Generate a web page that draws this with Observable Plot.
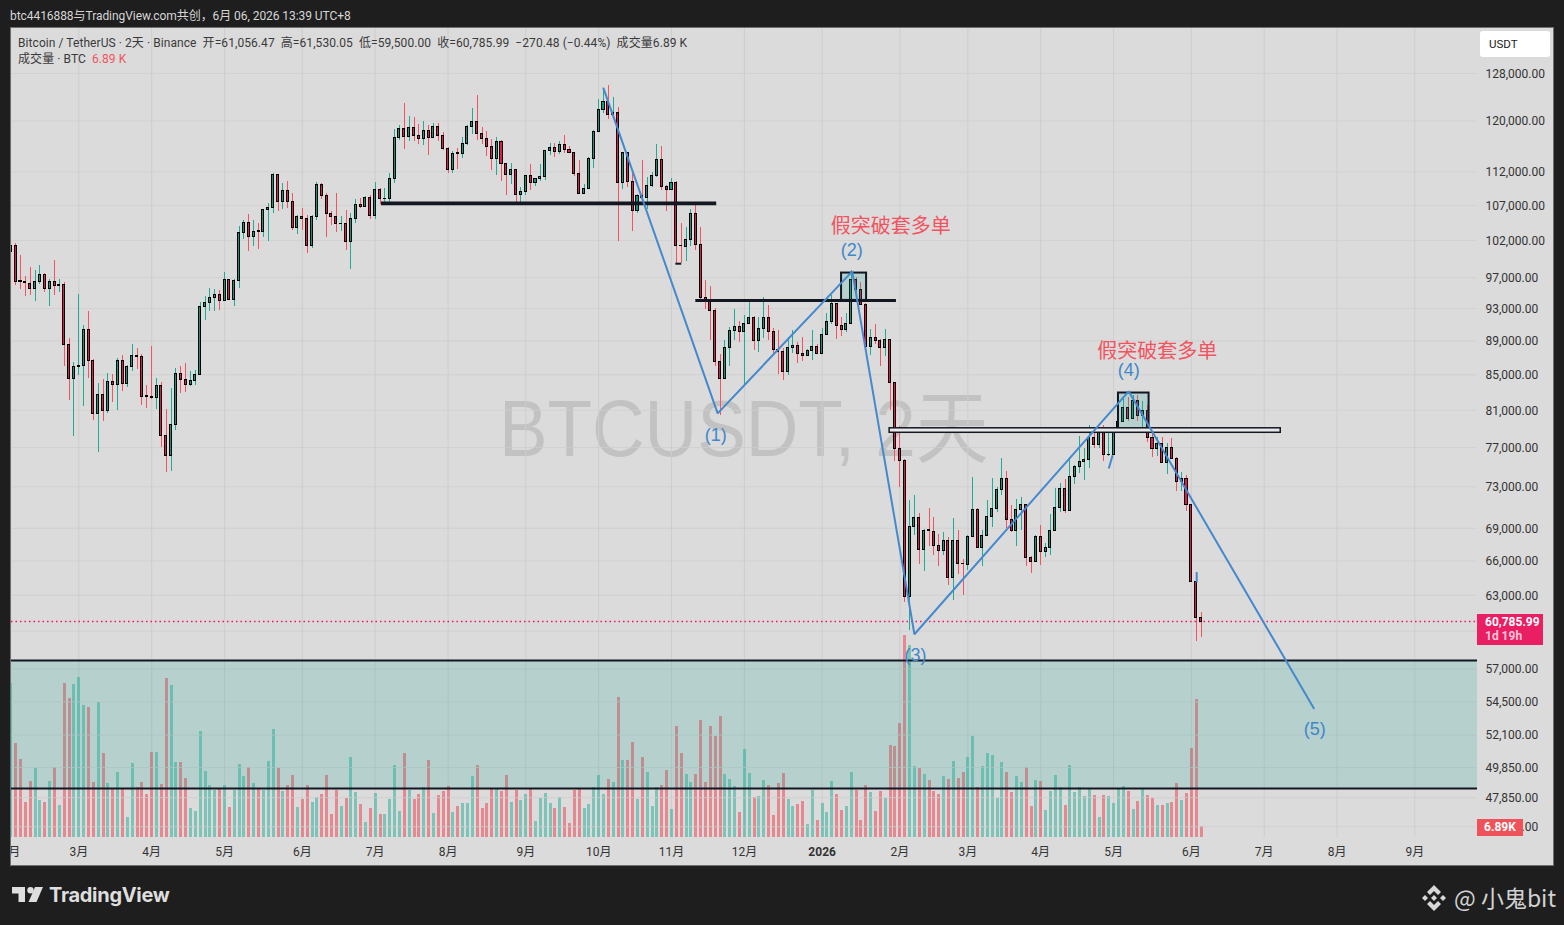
<!DOCTYPE html>
<html><head><meta charset="utf-8">
<script src="https://cdn.jsdelivr.net/npm/d3@7"></script>
<script src="https://cdn.jsdelivr.net/npm/@observablehq/plot@0.6"></script>
<style>
html,body{margin:0;padding:0;background:#1e1e1e;width:1564px;height:925px;overflow:hidden;font-family:"Liberation Sans",Roboto,"Noto Sans CJK SC",sans-serif}
#top{position:absolute;left:10px;top:6px;color:#d6d6d6;font:12px Roboto,"Noto Sans CJK SC",sans-serif;letter-spacing:-.06px;white-space:nowrap}
#panel{position:absolute;left:10px;top:27px;width:1544px;height:839px;box-sizing:border-box;border:1px solid #6f6f6f;background:#dbdbdb;overflow:hidden}
#panel svg{position:absolute;left:0;top:0;background:transparent}
.abs{position:absolute;white-space:nowrap}
#wm{left:488px;top:351px;font:80px "Liberation Sans","Noto Sans CJK SC",sans-serif;color:#c2c2c2;transform:scaleX(.91);transform-origin:left center;line-height:100px;margin-top:0}
.leg{left:7px;color:#3a3a3a;font:12px Roboto,"Noto Sans CJK SC",sans-serif;letter-spacing:.07px}
#usdt{left:1469px;top:3px;width:70px;height:26px;background:#fff;border-radius:3px;color:#222;font:11.5px/26px Roboto,sans-serif;text-indent:9px}
#tagP{left:1466px;top:586px;width:66px;height:31px;background:#e91e63;color:#fff;font:bold 12px/14px Roboto,sans-serif;text-align:left;padding:1px 0 0 8px;box-sizing:border-box}
#tagP span{color:#fbc6d8}
#tagV{left:1466px;top:791px;width:46px;height:17px;background:#f0525a;color:#fff;font:bold 12px/17px Roboto,sans-serif;text-align:center}
#tv{left:49px;top:883px;color:#dedede;font:bold 20px "Inter","Liberation Sans",sans-serif;letter-spacing:-.3px}
#bit{left:1454px;top:880px;color:#d2d2d2;font:23px "Noto Sans CJK SC","Noto Sans",sans-serif}
</style></head><body>
<div id="top">btc4416888与TradingView.com共创，6月 06, 2026 13:39 UTC+8</div>
<div id="panel">
  <div class="abs" id="wm">BTCUSDT, 2天</div>
  <div id="layers"></div>
  <div class="abs leg" style="top:5px">Bitcoin / TetherUS · 2天 · Binance &nbsp;开=61,056.47 &nbsp;高=61,530.05 &nbsp;低=59,500.00 &nbsp;收=60,785.99 &nbsp;−270.48 (−0.44%) &nbsp;成交量6.89 K</div>
  <div class="abs leg" style="top:21px">成交量 · BTC &nbsp;<span style="color:#f2535f">6.89 K</span></div>
  <div class="abs" id="usdt">USDT</div>
  <div class="abs" id="tagP">60,785.99<br><span>1d 19h</span></div>
  <div class="abs" id="tagV">6.89K</div>
</div>
<svg class="abs" style="left:12px;top:887px" width="32" height="16" viewBox="0 0 32 16"><path fill="#dedede" d="M0 0H13V15H6.5V6.5H0Z"/><circle fill="#dedede" cx="18.5" cy="3.2" r="3.2"/><path fill="#dedede" d="M23 0H31L24.5 15H16.5Z"/></svg>
<div class="abs" id="tv">TradingView</div>
<svg class="abs" style="left:1420px;top:884px" width="28" height="28" viewBox="0 0 28 28"><g fill="#d8d8d8"><path d="M14 1L21 8L18 11L14 7L10 11L7 8Z"/><path d="M14 27L21 20L18 17L14 21L10 17L7 20Z"/><path d="M5 11L8 14L5 17L2 14Z"/><path d="M23 11L26 14L23 17L20 14Z"/><path d="M14 11L17 14L14 17L11 14Z"/></g></svg>
<div class="abs" id="bit">@ 小鬼bit</div>
<script>
const opens=[100420,101200,96500,96420,96200,95500,96410,97390,95500,96460,
95940,96070,88560,84560,85950,86070,90370,86650,80630,82740,
80960,84210,83870,86650,83990,85950,87240,87120,82600,82520,
82410,83760,78260,76160,79400,85130,84440,83870,84330,85020,
93240,93750,94390,94770,94000,96720,94130,96590,103100,104510,
102540,103300,103240,106270,106660,111440,107530,109150,107530,103800,
105370,105080,101240,105370,110040,108410,105800,105370,104300,104370,
101850,105080,107100,106750,108120,105510,109300,107930,107980,110940,
117300,118740,117400,118900,117620,117080,118410,117300,119060,117620,
115560,112250,114830,114780,116350,119060,119870,117940,117080,115880,
114000,116660,113230,111550,112310,108560,109000,111400,110340,110880,
111250,115240,115720,115030,116190,115410,114930,111700,108710,109450,
114000,118250,121840,123170,121020,121350,110340,114930,110490,106230,
108410,108120,109900,111400,113840,109750,109300,110340,101300,101100,
102130,105800,101430,94340,94130,92730,86530,84560,88190,90250,
90750,90130,91110,91860,89030,90500,91860,90130,87950,87710,
85360,88190,88430,87480,87240,87840,88310,87480,89760,91360,
93620,90870,90390,91110,96720,95420,93500,88310,89400,89030,
88190,89150,84100,76890,75650,62810,69160,70010,67030,68850,
68690,67400,66940,67860,64530,67860,65770,65680,68230,70770,
67220,68320,70110,70870,72720,73820,69820,68780,70770,71260,
66310,65950,68230,66850,67220,68780,70970,72830,70680,74020,
75030,75540,75750,78050,77310,78580,76220,76270,78580,79760,
81290,80080,82070,80410,80960,78050,76890,77410,75440,76990,
75850,73520,73820,71260,64100,61056];
const closes=[101200,96410,96420,96330,95500,96460,97390,95500,96460,95940,
96070,88560,84560,85950,86070,90370,86650,80630,82740,80960,
84210,83830,86650,83990,85950,87240,87080,82520,82520,82410,
83760,78260,76160,79440,85130,84390,83870,84330,85020,93240,
93750,94390,94770,94000,96720,94130,96590,103100,104510,102540,
103240,103240,106270,106660,111440,107530,109150,107530,103800,105370,
105080,101240,105370,110040,108410,105800,105370,104370,104370,101850,
105080,107100,106750,108120,105410,109300,107980,107980,110940,117300,
118740,117400,118900,117560,117080,118410,117300,119060,117620,115500,
112250,114780,114780,116350,119060,119870,117940,117080,115880,114000,
116660,113230,111550,112310,108560,109000,111400,110340,110940,111250,
115240,115720,115030,116190,115410,114930,111700,108710,109450,114000,
118250,121840,123170,121020,121350,110340,114930,110490,106230,108410,
108120,109900,111400,113840,109750,109300,110340,101300,101240,102130,
105800,101430,94340,94040,92730,86530,84560,88190,90250,90750,
90130,91110,91860,89030,90500,91860,90130,87870,87710,85360,
88190,88430,87480,87240,87840,88310,87480,89760,91360,93620,
90870,90390,91110,96720,95420,93500,88310,89400,89030,88190,
89150,84100,76890,75650,62810,69160,70010,67030,68780,68780,
67400,66940,67860,64530,67860,65770,65710,68230,70770,67220,
68320,70110,70870,72720,73820,69820,68780,70770,71260,66310,
65950,68230,66850,67220,68780,70970,72830,70680,74020,75030,
75540,75750,78050,77310,78580,76270,76270,78580,79760,81290,
80080,82070,80410,80960,78050,76890,77410,75440,76990,75850,
73520,73820,71260,64100,61056,60786];
const highs=[102300,101570,99970,97160,98360,97950,98620,97520,96720,99290,
96720,96330,89320,86450,94810,90910,92650,86760,83990,84470,
85130,85050,86920,87280,86100,88590,88110,87400,83790,88350,
84560,84100,81110,83450,85750,85980,86330,85400,85510,93790,
94560,95590,95460,95290,97690,96760,96720,103990,104830,105700,
104830,104370,106460,107240,111746,111590,110240,110540,108750,105550,
106560,105550,105550,110390,110240,108710,106170,108750,105410,106270,
105840,107870,108020,108310,108460,110390,109490,109490,111746,118630,
119280,122890,120740,120580,119440,119880,119230,119600,119550,118140,
115720,115130,115600,117300,119230,122060,124240,118950,118300,116970,
117300,116860,113270,113270,112350,109640,111440,113120,110990,113120,
115340,116390,116350,116710,117670,115880,115030,113730,110090,114160,
118410,123550,125370,125930,123900,122180,114980,114980,111746,108610,
113730,111090,111850,116190,115930,109940,110940,110540,104410,103880,
106420,107240,103880,96630,95850,92980,87400,89070,90700,92860,
91400,92110,94040,92020,91930,94380,93410,90540,90290,88080,
89470,90290,88830,89400,87950,90290,88590,90500,92360,94650,
93700,91930,92440,97950,97060,96410,93620,90370,90990,89150,
90370,89190,84130,79260,75780,71670,72170,70390,68900,70900,
70040,68440,68630,68130,69910,68810,66160,68320,73910,70870,
68810,71670,73820,72920,75850,74550,71190,71750,71940,71290,
66370,68350,69280,67580,70300,72830,73320,73720,75960,75170,
78190,76900,79360,79010,78900,79360,78640,78900,82330,82470,
82470,82660,82660,82020,81550,78580,78050,78080,77410,77940,
75960,74420,74150,71290,65000,61530];
const lows=[91190,95980,95460,94560,94730,93910,96110,95070,93280,94690,
95070,85980,82100,78190,84940,81440,84590,79900,76500,79790,
80665,81880,80990,83110,83570,85400,85640,81550,81220,82220,
81100,77030,74450,74550,78820,82890,83000,83680,83790,84940,
91520,92650,92650,92780,93980,94040,93280,95590,102170,100510,
101200,100750,102440,101890,105880,106120,106420,106560,103420,102860,
103420,100240,100930,104830,107870,102440,104130,103140,103280,100650,
98090,104410,106610,106710,104980,104980,107140,107285,107285,110280,
116860,115440,116660,116660,116240,116030,114560,117190,116660,115240,
111790,111746,112350,114050,116130,117830,116860,116240,114310,112200,
111440,110540,108460,110090,107140,107000,108460,109150,109790,110490,
110640,114560,114200,114620,114780,114820,111290,108560,108560,109340,
112500,118090,121280,120250,120620,101890,109340,109600,103280,105880,
107140,106420,109600,111090,109150,106120,109150,98850,98890,99160,
101200,100650,94000,92860,89070,85980,80450,84470,85980,89070,
88790,83680,91030,87870,87630,89280,89070,87510,85050,84360,
84940,87480,86330,86560,87160,86680,87400,87400,89680,91030,
89230,89560,90080,91030,94130,93410,88230,87200,88590,85980,
87160,80990,75570,72890,62400,60020,68290,65710,65090,67310,
66520,65530,66520,63840,62550,64820,63000,65180,68130,67130,
65530,68260,69120,70520,72170,68980,68600,67340,68810,65530,
64910,65890,65620,66310,66520,68750,70520,70390,70640,73250,
74350,73650,74830,76890,76890,75570,76090,76190,78500,79680,
79720,80010,79760,78580,77520,75960,76090,75370,74220,75750,
72530,72490,70610,64060,59130,59500];
const volumes=[99.1,60.4,50.1,22.4,35.9,44.3,23.7,22.4,35.9,44.9,
20.4,99.1,89.4,98.5,103,84.9,83.6,35.3,86.9,54,
34.6,31.4,41.7,30.7,12.7,47.5,32,35.3,27.5,54.6,
54.6,34,102.3,97.8,48.2,48.2,37.8,18.5,16.6,68.2,
42.4,33.3,30.1,31.4,33.3,19.1,30.1,46.9,39.1,44.9,
34.6,30.7,30.1,48.8,69.4,44.3,29.5,33.3,39.8,19.1,
24.3,33.3,22.4,25.6,27.5,39.8,14.6,30.1,19.8,24.9,
51.4,28.8,21.1,9.5,18.5,28.2,14.6,14.6,24.3,46.2,
16.6,54,30.1,24.3,27.5,32,49.5,15.3,26.9,29.5,
32.7,15.9,19.8,21.7,21.7,39.1,46.2,18.5,21.7,30.7,
30.7,29.5,39.8,22.4,30.1,23.7,27.5,30.7,10.1,24.9,
28.2,21.7,18.5,25.6,19.1,8.8,30.1,30.7,18.5,21.1,
32,39.8,27.5,37.2,35.3,90.1,49.5,49.5,61.1,24.3,
51.4,41.7,19.8,32,33.3,43,17.8,71.4,54,40.4,
35.3,40.4,75.3,35.3,71.4,64.9,77.8,40.4,37.2,32.7,
15.9,56.5,41.1,25.6,26.2,36.6,33.3,14,34.6,41.1,
24.3,19.8,21.1,23,8.2,30.1,10.8,21.7,15.9,35.9,
27.5,17.2,19.8,41.7,30.1,10.8,33.3,28.8,16.6,29.5,
24.9,59.1,58.5,73.3,130.1,123.6,45.6,44.3,40.4,36.6,
29.5,27.5,39.1,37.2,48.8,37.8,41.7,51.4,64.9,32,
45.6,54,52.7,24.9,48.2,41.7,28.8,39.1,35.3,44.9,
19.8,36.6,35.9,17.2,29.5,39.8,32,20.4,46.2,28.8,
32,26.2,31.4,26.9,12.7,26.9,26.2,21.7,30.7,32.7,
29.5,17.8,23,31.4,26.9,24.9,20.4,20.4,21.7,22.4,
34.6,23.7,28.2,57.2,88.8,6.89];

const monthBars=[0,14,29,44,60,75,90,106,121,136,151,167,183,197,212,227,243,258,273,289];
const monthLabels=["2月","3月","4月","5月","6月","7月","8月","9月","10月","11月","12月","2026","2月","3月","4月","5月","6月","7月","8月","9月"];
const priceTicks=[128000,120000,112000,107000,102000,97000,93000,89000,85000,81000,77000,73000,69000,66000,63000,60000,57000,54500,52100,49850,47850,46000];
const lastPrice=60785.99;

const waveBars=[122,145.5,173.2,186,230.1,268.2];
const wavePrices=[125430,80665,97820,59750,83110,54030];
const waveNames=["(1)","(2)","(3)","(4)","(5)"];
const waveNameBars=[145.1,173.1,186.2,230.1,268.4];
const waveNamePrices=[78290,100650,58040,85510,52490];
const noteText="假突破套多单";
const noteBars=[181.1,236];
const notePrices=[103990,87750];
const zonePrices=[48450,57650];
const levelRows=[
 {x1:76.3,x2:145.3,p:107300,w:3.6},
 {x1:141,x2:182.3,p:94040,w:3},
 {x1:136.9,x2:138.1,p:98850,w:2}
];
const boxRows=[
 {x1:171,x2:176.15,p1:94040,p2:97600},
 {x1:228,x2:234.3,p1:78820,p2:82920}
];
const bandRow=[{x1:180.9,x2:261.4,p1:78560,p2:79040}];
const stubRows=[
 {a:226,b:226.8,pa:74830,pb:76190},
 {a:244.1,b:244.1,pa:64120,pb:65000}
];

const bars=opens.map((o,i)=>({i,o,c:closes[i],h:highs[i],l:lows[i],v:volumes[i],down:closes[i]<o}));
const W=1542,H=837,MR=76,MB=28;
const xDomain=[0.144,301.9];
const dark="#131722";
const lineBlue="#4589cc";

const volPlot=Plot.plot({
  width:W,height:H,marginLeft:0,marginRight:MR,marginTop:0,marginBottom:MB,
  x:{type:"linear",domain:xDomain,axis:null},
  y:{type:"linear",domain:[0,521.8],axis:null},
  marks:[
    Plot.gridX(monthBars,{stroke:"#cdcdcd",strokeOpacity:1,strokeWidth:1}),
    Plot.ruleX(bars,{x:"i",y1:0,y2:"v",strokeWidth:3,strokeOpacity:.5,stroke:d=>d.down?"#f23645":"#22ab94",clip:true,shapeRendering:"crispEdges"})
  ]
});

const pricePlot=Plot.plot({
  width:W,height:H,marginLeft:0,marginRight:MR,marginTop:0,marginBottom:MB,
  x:{type:"linear",domain:xDomain,axis:null},
  y:{type:"log",domain:[45330,136070],axis:null},
  marks:[
    Plot.gridY(priceTicks,{stroke:"#cdcdcd",strokeWidth:1,strokeOpacity:.75}),
    Plot.rect([zonePrices],{x1:xDomain[0],x2:xDomain[1],y1:d=>d[0],y2:d=>d[1],fill:"#22ab94",fillOpacity:.2}),
    Plot.ruleY(zonePrices,{x1:xDomain[0],x2:xDomain[1],stroke:dark,strokeWidth:2}),
    Plot.ruleY([lastPrice],{x1:xDomain[0],x2:xDomain[1],stroke:"#ff0f5f",strokeWidth:1.4,strokeOpacity:1,strokeDasharray:"1.5 3"}),
    Plot.ruleX(bars,{x:"i",y1:"l",y2:"h",strokeWidth:1,stroke:d=>d.down?"#f7525f":"#22ab94",clip:true,shapeRendering:"crispEdges"}),
    Plot.rect(bars,{x1:d=>d.i-0.21,x2:d=>d.i+0.21,y1:"o",y2:"c",fill:d=>d.down?"#e8174f":"#089981",stroke:"#000",strokeWidth:1,clip:true,shapeRendering:"crispEdges"}),
    Plot.ruleY(levelRows,{x1:"x1",x2:"x2",y:"p",stroke:dark,strokeWidth:"w"}),
    Plot.rect(boxRows,{x1:"x1",x2:"x2",y1:"p1",y2:"p2",fill:"#22ab94",fillOpacity:.2,stroke:dark,strokeWidth:2}),
    Plot.rect(bandRow,{x1:"x1",x2:"x2",y1:"p1",y2:"p2",fill:"#e8e8e8",stroke:dark,strokeWidth:1.5}),
    Plot.line(waveBars.map((b,k)=>[b,wavePrices[k]]),{x:d=>d[0],y:d=>d[1],stroke:lineBlue,strokeWidth:2,strokeLinejoin:"miter"}),
    Plot.link(stubRows,{x1:"a",x2:"b",y1:"pa",y2:"pb",stroke:lineBlue,strokeWidth:2}),
    Plot.text(waveNames,{x:(d,k)=>waveNameBars[k],y:(d,k)=>waveNamePrices[k],text:d=>d,fill:"#3f87c9",fontSize:18,fontFamily:"'Liberation Sans',sans-serif"}),
    Plot.text(noteBars,{x:d=>d,y:(d,k)=>notePrices[k],text:()=>noteText,fill:"#f2535f",fontSize:20,fontFamily:"'Noto Sans CJK SC',sans-serif"}),
    Plot.axisY(priceTicks,{anchor:"right",tickSize:0,tickPadding:8,textAnchor:"start",label:null,fill:"#333",fontSize:12,dy:0.5,fontFamily:"Roboto,sans-serif",tickFormat:d=>d3.format(",.2f")(d)}),
    Plot.axisX(monthBars,{anchor:"bottom",tickSize:0,tickPadding:10,label:null,fill:"#333",fontSize:12,fontFamily:"Roboto,'Noto Sans CJK SC',sans-serif",tickFormat:(d,k)=>monthLabels[monthBars.indexOf(d)]})
  ]
});
d3.select(pricePlot).selectAll("text").filter(function(){return this.textContent==="2026"}).attr("font-weight","bold");
document.getElementById("layers").append(volPlot,pricePlot);
</script>
</body></html>
